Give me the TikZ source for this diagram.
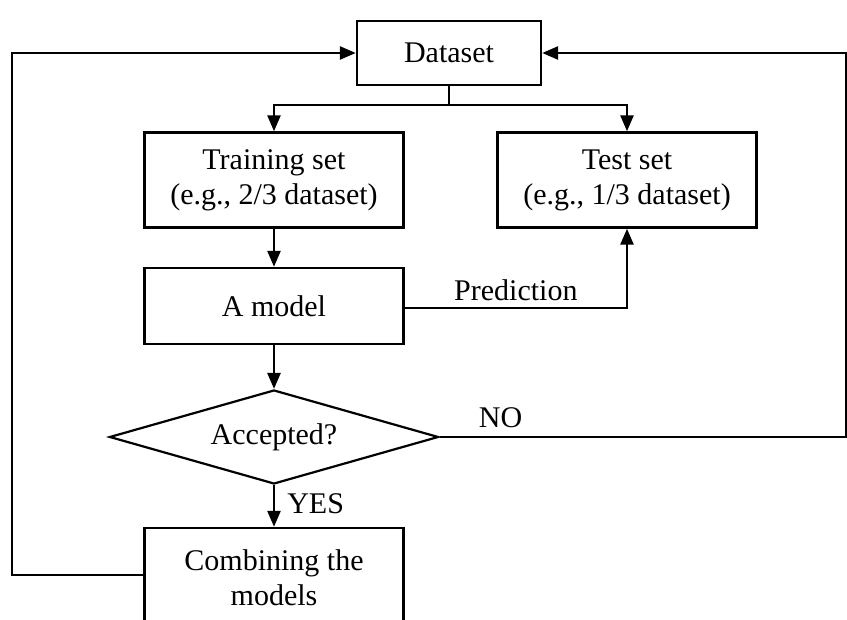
\documentclass[tikz,border=0pt]{standalone}
\usepackage{fontspec}
\setmainfont{Liberation Serif}
\usetikzlibrary{arrows.meta,shapes.geometric}
\begin{document}
\begin{tikzpicture}[x=1pt,y=1pt,
  every node/.style={font=\fontsize{30}{35}\selectfont},
  stepbox/.style={draw,line width=2.4pt,inner sep=0pt,align=center,
    minimum width=259pt},
  decide/.style={draw,diamond,line width=2.2pt,inner sep=0pt,aspect=3.5,
    minimum width=329pt,minimum height=94pt},
  link/.style={line width=2.6pt},
  arr/.style={link,-{Triangle[length=16pt,width=13pt]}},
  lbl/.style={inner sep=2pt}]
\useasboundingbox (0,0) rectangle (847,620);
\clip (0,0) rectangle (847,620);

% process boxes (y measured upward)
\node[stepbox,minimum width=184pt,minimum height=64pt] (data) at (449,567) {Dataset};
\node[stepbox,minimum height=95pt] (train) at (274,440) {Training set\\(e.g., 2/3 dataset)};
\node[stepbox,minimum height=95pt] (test) at (627,440) {Test set\\(e.g., 1/3 dataset)};
\node[stepbox,minimum height=76pt] (model) at (274,314) {A model};
\node[decide] (acc) at (274,183) {Accepted?};
\node[stepbox,minimum height=100pt] (comb) at (274,42) {Combining the\\models};

% split of the dataset
\coordinate (split) at (449,515);
\draw[link] (data.south) -- (split);
\draw[arr] (split) -| (train.north);
\draw[arr] (split) -| (test.north);

% main flow
\draw[arr] (train.south) -- (model.north);
\draw[arr] (model.south) -- (acc.north);
\draw[arr] (acc.south) -- node[lbl,right,xshift=10pt,yshift=2pt] {YES} (comb.north);

% prediction on the test set
\coordinate (pc) at (627,312);
\draw[arr] (model.east |- pc) -- node[lbl,above,yshift=4pt] {Prediction} (pc) -- (test.south);

% rejection loop back to the dataset
\coordinate (rgt) at (846,183);
\draw[arr] (acc.east) -- node[lbl,above,pos=0.15,yshift=6pt] {NO} (rgt) |- (data.east);

% combined models loop back to the dataset
\coordinate (lft) at (12,45);
\draw[arr] (comb.west |- lft) -- (lft) |- (data.west);
\end{tikzpicture}
\end{document}
